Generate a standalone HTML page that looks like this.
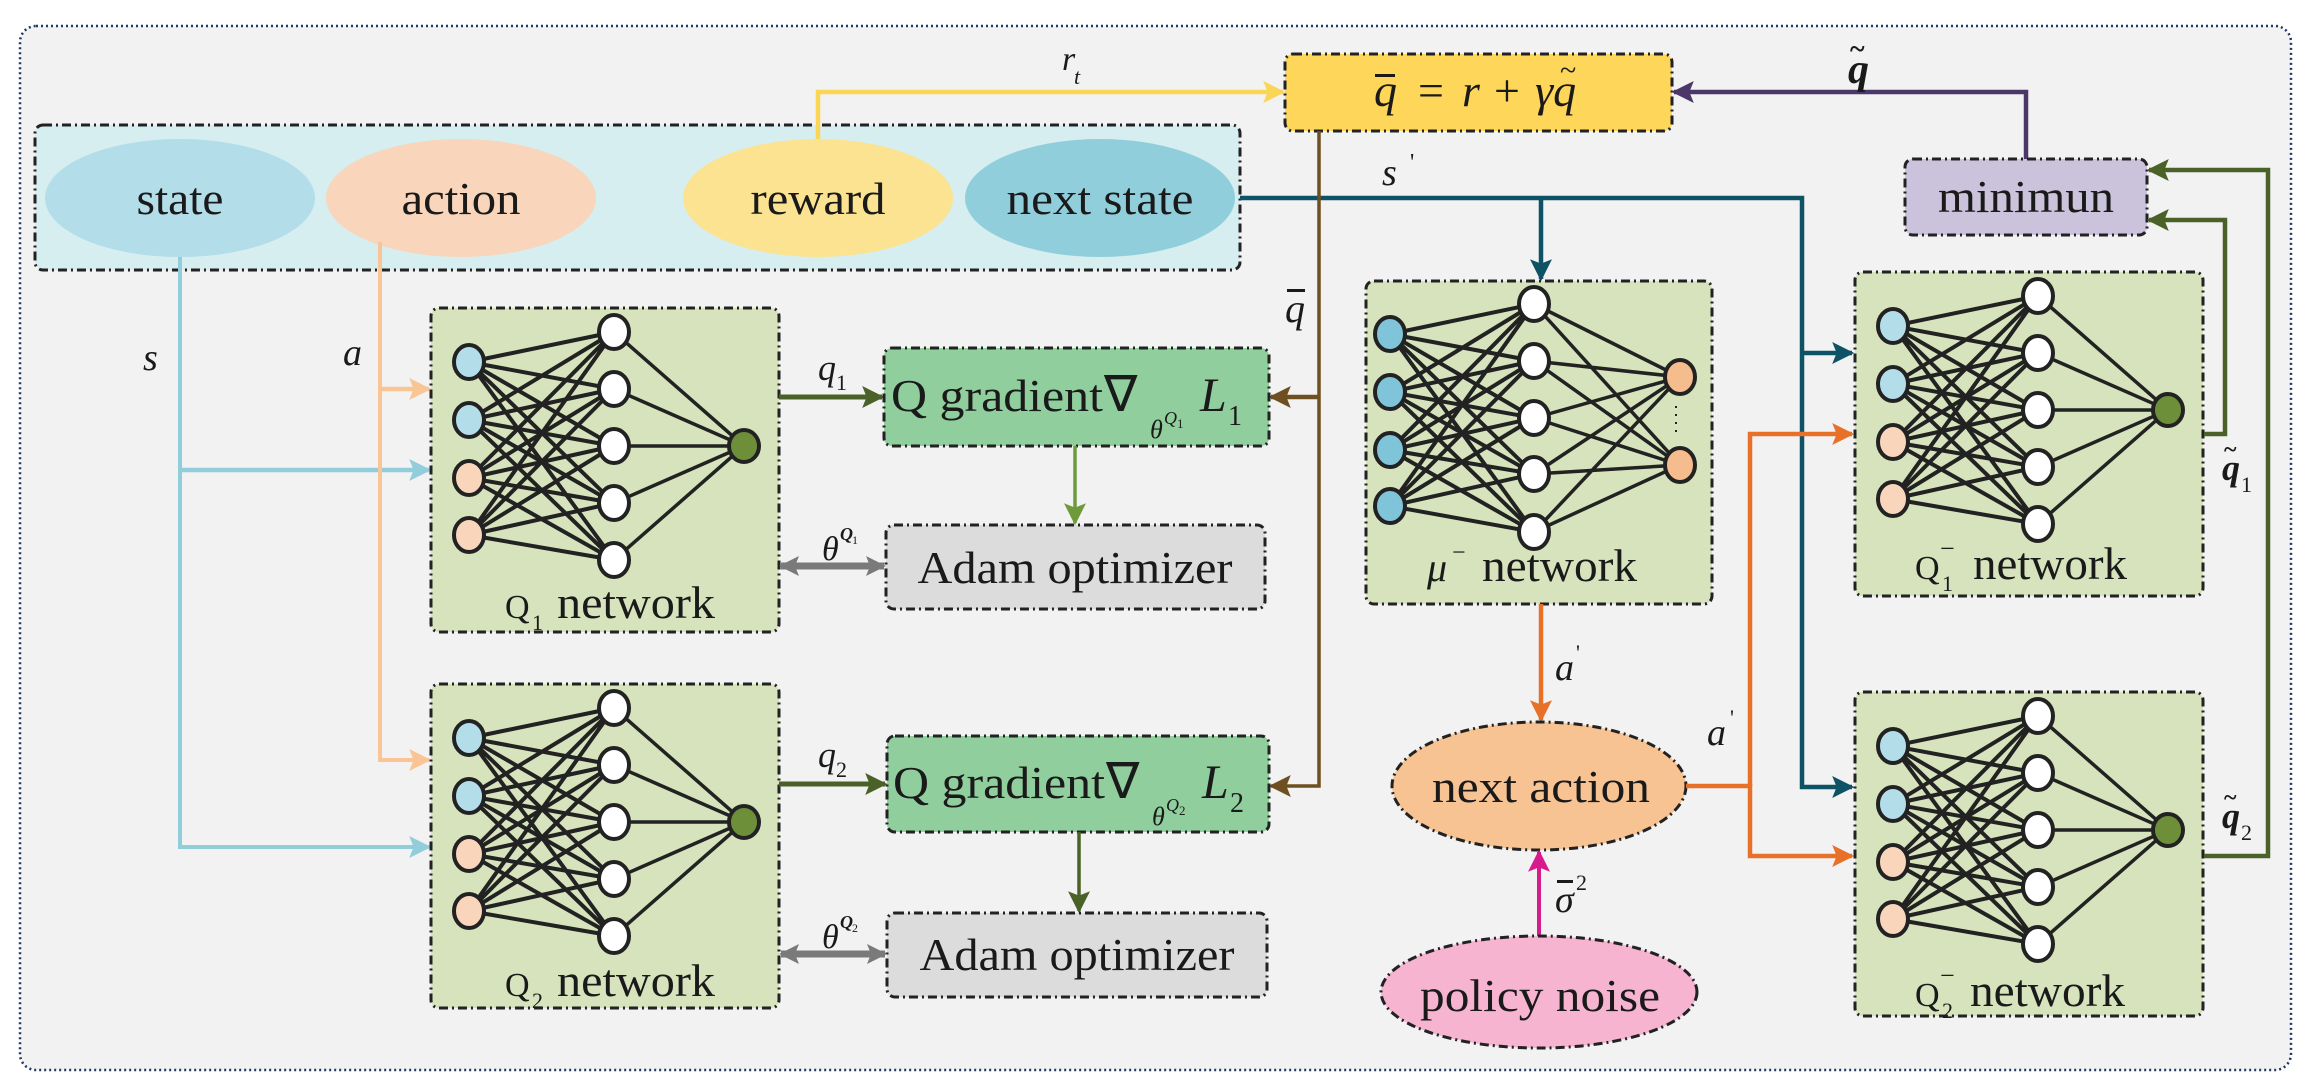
<!DOCTYPE html>
<html><head><meta charset="utf-8"><style>
html,body{margin:0;padding:0;background:#fff}
svg{display:block}
text{font-family:"Liberation Serif",serif;fill:#1a1a1a}
.it{font-style:italic}
</style></head><body>
<svg width="2314" height="1092" viewBox="0 0 2314 1092" xmlns="http://www.w3.org/2000/svg">
<defs>
<marker id="my" viewBox="0 0 10 10" refX="9" refY="5" markerWidth="22" markerHeight="24" markerUnits="userSpaceOnUse" orient="auto-start-reverse"><path d="M0,0L10,5L0,10L2,5z" fill="#fbd555"/></marker>
<marker id="mp" viewBox="0 0 10 10" refX="9" refY="5" markerWidth="22" markerHeight="24" markerUnits="userSpaceOnUse" orient="auto-start-reverse"><path d="M0,0L10,5L0,10L2,5z" fill="#4b3768"/></marker>
<marker id="mt" viewBox="0 0 10 10" refX="9" refY="5" markerWidth="22" markerHeight="24" markerUnits="userSpaceOnUse" orient="auto-start-reverse"><path d="M0,0L10,5L0,10L2,5z" fill="#0e5266"/></marker>
<marker id="mb" viewBox="0 0 10 10" refX="9" refY="5" markerWidth="22" markerHeight="24" markerUnits="userSpaceOnUse" orient="auto-start-reverse"><path d="M0,0L10,5L0,10L2,5z" fill="#6e5020"/></marker>
<marker id="mg" viewBox="0 0 10 10" refX="9" refY="5" markerWidth="22" markerHeight="24" markerUnits="userSpaceOnUse" orient="auto-start-reverse"><path d="M0,0L10,5L0,10L2,5z" fill="#4a6128"/></marker>
<marker id="ml" viewBox="0 0 10 10" refX="9" refY="5" markerWidth="22" markerHeight="24" markerUnits="userSpaceOnUse" orient="auto-start-reverse"><path d="M0,0L10,5L0,10L2,5z" fill="#6e9a3a"/></marker>
<marker id="mgr" viewBox="0 0 10 10" refX="9" refY="5" markerWidth="20" markerHeight="26" markerUnits="userSpaceOnUse" orient="auto-start-reverse"><path d="M0,0L10,5L0,10L2,5z" fill="#7a7a7a"/></marker>
<marker id="msb" viewBox="0 0 10 10" refX="9" refY="5" markerWidth="22" markerHeight="24" markerUnits="userSpaceOnUse" orient="auto-start-reverse"><path d="M0,0L10,5L0,10L2,5z" fill="#92cddc"/></marker>
<marker id="mpe" viewBox="0 0 10 10" refX="9" refY="5" markerWidth="22" markerHeight="24" markerUnits="userSpaceOnUse" orient="auto-start-reverse"><path d="M0,0L10,5L0,10L2,5z" fill="#f9c595"/></marker>
<marker id="mo" viewBox="0 0 10 10" refX="9" refY="5" markerWidth="22" markerHeight="24" markerUnits="userSpaceOnUse" orient="auto-start-reverse"><path d="M0,0L10,5L0,10L2,5z" fill="#e8712a"/></marker>
<marker id="mm" viewBox="0 0 10 10" refX="9" refY="5" markerWidth="22" markerHeight="24" markerUnits="userSpaceOnUse" orient="auto-start-reverse"><path d="M0,0L10,5L0,10L2,5z" fill="#d81b8c"/></marker>
<g id="qnet">
<rect x="0" y="0" width="348" height="324" rx="8" fill="#d6e3bc" stroke="#222" stroke-width="3" stroke-dasharray="9 4 2 4"/>
<path d="M38 54L183 24M38 54L183 81M38 54L183 138M38 54L183 195M38 54L183 252M38 112L183 24M38 112L183 81M38 112L183 138M38 112L183 195M38 112L183 252M38 170L183 24M38 170L183 81M38 170L183 138M38 170L183 195M38 170L183 252M38 227L183 24M38 227L183 81M38 227L183 138M38 227L183 195M38 227L183 252" stroke="#222" stroke-width="4" fill="none"/>
<path d="M183 24L313 138M183 81L313 138M183 138L313 138M183 195L313 138M183 252L313 138" stroke="#222" stroke-width="3.5" fill="none"/>
<g stroke="#222" stroke-width="4">
<ellipse cx="38" cy="54" rx="15" ry="17" fill="#b3dde9"/><ellipse cx="38" cy="112" rx="15" ry="17" fill="#b3dde9"/>
<ellipse cx="38" cy="170" rx="15" ry="17" fill="#f8d5bb"/><ellipse cx="38" cy="227" rx="15" ry="17" fill="#f8d5bb"/>
<ellipse cx="183" cy="24" rx="15" ry="17" fill="#fff"/><ellipse cx="183" cy="81" rx="15" ry="17" fill="#fff"/><ellipse cx="183" cy="138" rx="15" ry="17" fill="#fff"/><ellipse cx="183" cy="195" rx="15" ry="17" fill="#fff"/><ellipse cx="183" cy="252" rx="15" ry="17" fill="#fff"/>
<ellipse cx="313" cy="138" rx="15" ry="16" fill="#6e8f3a"/>
</g>
</g>
</defs>

<rect x="20" y="26" width="2271" height="1044" rx="16" fill="#f2f2f2" stroke="#1f3864" stroke-width="2.5" stroke-dasharray="2 3"/>

<rect x="35" y="125" width="1205" height="145" rx="8" fill="#d6eef0" stroke="#222" stroke-width="3" stroke-dasharray="9 4 2 4"/>
<ellipse cx="180" cy="198" rx="135" ry="59" fill="#b3dde9"/>
<ellipse cx="461" cy="198" rx="135" ry="59" fill="#f8d5bb"/>
<ellipse cx="818" cy="198" rx="135" ry="59" fill="#fbe391"/>
<ellipse cx="1100" cy="198" rx="135" ry="59" fill="#91cedc"/>
<text x="180" y="214" font-size="46" text-anchor="middle" textLength="87" lengthAdjust="spacingAndGlyphs">state</text>
<text x="461" y="214" font-size="46" text-anchor="middle" textLength="119" lengthAdjust="spacingAndGlyphs">action</text>
<text x="818" y="214" font-size="46" text-anchor="middle" textLength="135" lengthAdjust="spacingAndGlyphs">reward</text>
<text x="1100" y="214" font-size="46" text-anchor="middle" textLength="187" lengthAdjust="spacingAndGlyphs">next state</text>

<path d="M818 139V92H1283" stroke="#fbd555" stroke-width="4.5" fill="none" marker-end="url(#my)"/>
<text x="1062" y="70" font-size="34" class="it">r</text><text x="1074" y="84" font-size="22" class="it">t</text>

<rect x="1285" y="54" width="387" height="77" rx="8" fill="#fed65a" stroke="#222" stroke-width="3" stroke-dasharray="9 4 2 4"/>
<text x="1374" y="106" font-size="46" class="it">q</text>
<rect x="1375" y="74" width="20" height="3" fill="#1a1a1a"/>
<text x="1418" y="106" font-size="46">=</text>
<text x="1462" y="106" font-size="46" class="it">r</text>
<text x="1494" y="106" font-size="46">+</text>
<text x="1535" y="106" font-size="46" class="it">γq</text>
<text x="1560" y="80" font-size="30">~</text>

<path d="M2026 159V92H1674" stroke="#4b3768" stroke-width="4.5" fill="none" marker-end="url(#mp)"/>
<text x="1848" y="83" font-size="42" class="it" font-weight="bold">q</text><text x="1850" y="58" font-size="28" font-weight="bold">~</text>

<rect x="1905" y="159" width="242" height="76" rx="8" fill="#cbc3dc" stroke="#222" stroke-width="3" stroke-dasharray="9 4 2 4"/>
<text x="2026" y="212" font-size="46" text-anchor="middle" textLength="176" lengthAdjust="spacingAndGlyphs">minimun</text>

<path d="M1240 198H1802V787H1852" stroke="#0e5266" stroke-width="4.5" fill="none" marker-end="url(#mt)"/>
<path d="M1541 198V279" stroke="#0e5266" stroke-width="4.5" fill="none" marker-end="url(#mt)"/>
<path d="M1802 353H1852" stroke="#0e5266" stroke-width="4.5" fill="none" marker-end="url(#mt)"/>
<text x="1382" y="185" font-size="38" class="it">s</text><text x="1410" y="170" font-size="24">'</text>

<path d="M1319 131V786H1271" stroke="#6e5020" stroke-width="3.5" fill="none" marker-end="url(#mb)"/>
<path d="M1319 397H1271" stroke="#6e5020" stroke-width="4.5" fill="none" marker-end="url(#mb)"/>
<text x="1285" y="322" font-size="40" class="it">q</text><rect x="1287" y="289" width="18" height="3" fill="#1a1a1a"/>

<path d="M180 257V847H429" stroke="#92cddc" stroke-width="4" fill="none" marker-end="url(#msb)"/>
<path d="M180 470H429" stroke="#92cddc" stroke-width="4.5" fill="none" marker-end="url(#msb)"/>
<text x="143" y="370" font-size="38" class="it">s</text>
<path d="M380 242V760H429" stroke="#f9c595" stroke-width="4" fill="none" marker-end="url(#mpe)"/>
<path d="M380 389H429" stroke="#f9c595" stroke-width="4.5" fill="none" marker-end="url(#mpe)"/>
<text x="343" y="365" font-size="38" class="it">a</text>

<use href="#qnet" x="431" y="308"/>
<use href="#qnet" x="431" y="684"/>
<use href="#qnet" x="1855" y="272"/>
<use href="#qnet" x="1855" y="692"/>

<text x="505" y="618" font-size="34">Q</text><text x="532" y="630" font-size="22">1</text>
<text x="557" y="618" font-size="46" textLength="158" lengthAdjust="spacingAndGlyphs">network</text>
<text x="505" y="996" font-size="34">Q</text><text x="532" y="1008" font-size="22">2</text>
<text x="557" y="996" font-size="46" textLength="158" lengthAdjust="spacingAndGlyphs">network</text>
<text x="1915" y="579" font-size="34">Q</text><text x="1942" y="591" font-size="22">1</text><text x="1940" y="557" font-size="26">−</text>
<text x="1973" y="579" font-size="46" textLength="154" lengthAdjust="spacingAndGlyphs">network</text>
<text x="1915" y="1006" font-size="34">Q</text><text x="1942" y="1018" font-size="22">2</text><text x="1940" y="984" font-size="26">−</text>
<text x="1970" y="1006" font-size="46" textLength="155" lengthAdjust="spacingAndGlyphs">network</text>

<path d="M779 397H882" stroke="#4a6128" stroke-width="5" fill="none" marker-end="url(#mg)"/>
<text x="818" y="380" font-size="36" class="it">q</text><text x="836" y="390" font-size="22">1</text>
<rect x="884" y="348" width="385" height="98" rx="8" fill="#90cf9d" stroke="#222" stroke-width="3" stroke-dasharray="9 4 2 4"/>
<text x="891" y="411" font-size="46" textLength="212" lengthAdjust="spacingAndGlyphs">Q gradient</text>
<text x="1104" y="411" font-size="50">∇</text>
<text x="1150" y="438" font-size="26" class="it">θ</text><text x="1164" y="424" font-size="18" class="it">Q</text><text x="1177" y="428" font-size="13">1</text>
<text x="1200" y="411" font-size="48" class="it">L</text><text x="1228" y="425" font-size="28">1</text>

<path d="M779 784H885" stroke="#4a6128" stroke-width="5" fill="none" marker-end="url(#mg)"/>
<text x="818" y="767" font-size="36" class="it">q</text><text x="836" y="777" font-size="22">2</text>
<rect x="887" y="736" width="382" height="96" rx="8" fill="#90cf9d" stroke="#222" stroke-width="3" stroke-dasharray="9 4 2 4"/>
<text x="893" y="798" font-size="46" textLength="212" lengthAdjust="spacingAndGlyphs">Q gradient</text>
<text x="1106" y="798" font-size="50">∇</text>
<text x="1152" y="825" font-size="26" class="it">θ</text><text x="1166" y="811" font-size="18" class="it">Q</text><text x="1179" y="815" font-size="13">2</text>
<text x="1202" y="798" font-size="48" class="it">L</text><text x="1230" y="812" font-size="28">2</text>

<path d="M1075 446V523" stroke="#6e9a3a" stroke-width="3.5" fill="none" marker-end="url(#ml)"/>
<path d="M1079 832V911" stroke="#4a6128" stroke-width="3.5" fill="none" marker-end="url(#mg)"/>

<rect x="886" y="525" width="379" height="84" rx="8" fill="#dcdcdc" stroke="#222" stroke-width="3" stroke-dasharray="9 4 2 4"/>
<text x="1075" y="583" font-size="46" text-anchor="middle" textLength="315" lengthAdjust="spacingAndGlyphs">Adam optimizer</text>
<rect x="887" y="913" width="380" height="84" rx="8" fill="#dcdcdc" stroke="#222" stroke-width="3" stroke-dasharray="9 4 2 4"/>
<text x="1077" y="970" font-size="46" text-anchor="middle" textLength="315" lengthAdjust="spacingAndGlyphs">Adam optimizer</text>

<path d="M781 566H884" stroke="#7a7a7a" stroke-width="7" fill="none" marker-start="url(#mgr)" marker-end="url(#mgr)"/>
<text x="822" y="560" font-size="34" class="it">θ</text><text x="840" y="540" font-size="18" class="it" font-weight="bold">Q</text><text x="852" y="544" font-size="12">1</text>
<path d="M781 954H885" stroke="#7a7a7a" stroke-width="7" fill="none" marker-start="url(#mgr)" marker-end="url(#mgr)"/>
<text x="822" y="948" font-size="34" class="it">θ</text><text x="840" y="928" font-size="18" class="it" font-weight="bold">Q</text><text x="852" y="932" font-size="12">2</text>

<g transform="translate(1366,281)">
<rect x="0" y="0" width="346" height="323" rx="8" fill="#d6e3bc" stroke="#222" stroke-width="3" stroke-dasharray="9 4 2 4"/>
<path d="M24 53L168 23M24 53L168 80M24 53L168 137M24 53L168 193M24 53L168 251M24 111L168 23M24 111L168 80M24 111L168 137M24 111L168 193M24 111L168 251M24 169L168 23M24 169L168 80M24 169L168 137M24 169L168 193M24 169L168 251M24 225L168 23M24 225L168 80M24 225L168 137M24 225L168 193M24 225L168 251" stroke="#222" stroke-width="4" fill="none"/>
<path d="M168 23L314 96M168 80L314 96M168 137L314 96M168 193L314 96M168 251L314 96M168 23L314 184M168 80L314 184M168 137L314 184M168 193L314 184M168 251L314 184" stroke="#222" stroke-width="3.5" fill="none"/>
<g stroke="#222" stroke-width="4">
<ellipse cx="24" cy="53" rx="15" ry="17" fill="#7fc4d8"/><ellipse cx="24" cy="111" rx="15" ry="17" fill="#7fc4d8"/><ellipse cx="24" cy="169" rx="15" ry="17" fill="#7fc4d8"/><ellipse cx="24" cy="225" rx="15" ry="17" fill="#7fc4d8"/>
<ellipse cx="168" cy="23" rx="15" ry="17" fill="#fff"/><ellipse cx="168" cy="80" rx="15" ry="17" fill="#fff"/><ellipse cx="168" cy="137" rx="15" ry="17" fill="#fff"/><ellipse cx="168" cy="193" rx="15" ry="17" fill="#fff"/><ellipse cx="168" cy="251" rx="15" ry="17" fill="#fff"/>
<ellipse cx="314" cy="96" rx="15" ry="17" fill="#f5bd8d"/><ellipse cx="314" cy="184" rx="15" ry="17" fill="#f5bd8d"/>
</g>
<path d="M310 125V155" stroke="#222" stroke-width="2" stroke-dasharray="2 6"/>
</g>
<text x="1427" y="581" font-size="40" class="it">μ</text><text x="1452" y="560" font-size="24">−</text>
<text x="1482" y="581" font-size="46" textLength="155" lengthAdjust="spacingAndGlyphs">network</text>

<path d="M1541 604V720" stroke="#e8712a" stroke-width="4.5" fill="none" marker-end="url(#mo)"/>
<text x="1555" y="680" font-size="38" class="it">a</text><text x="1576" y="660" font-size="22">'</text>
<ellipse cx="1539" cy="786" rx="147" ry="64" fill="#f7c393" stroke="#222" stroke-width="3" stroke-dasharray="9 4 2 4"/>
<text x="1541" y="802" font-size="46" text-anchor="middle" textLength="218" lengthAdjust="spacingAndGlyphs">next action</text>
<path d="M1686 786H1750V856H1852" stroke="#e8712a" stroke-width="4.5" fill="none" marker-end="url(#mo)"/>
<path d="M1750 786V434H1852" stroke="#e8712a" stroke-width="4.5" fill="none" marker-end="url(#mo)"/>
<text x="1707" y="745" font-size="38" class="it">a</text><text x="1730" y="725" font-size="22">'</text>

<path d="M1539 936V852" stroke="#d81b8c" stroke-width="4" fill="none" marker-end="url(#mm)"/>
<text x="1555" y="912" font-size="38" class="it">σ</text><rect x="1557" y="880" width="16" height="3" fill="#1a1a1a"/><text x="1576" y="890" font-size="22">2</text>
<ellipse cx="1539" cy="992" rx="158" ry="56" fill="#f6b4d0" stroke="#222" stroke-width="3" stroke-dasharray="9 4 2 4"/>
<text x="1540" y="1011" font-size="46" text-anchor="middle" textLength="240" lengthAdjust="spacingAndGlyphs">policy noise</text>

<path d="M2204 434H2225V220H2149" stroke="#4a6128" stroke-width="4.5" fill="none" marker-end="url(#mg)"/>
<path d="M2204 856H2268V170H2149" stroke="#4a6128" stroke-width="4.5" fill="none" marker-end="url(#mg)"/>
<text x="2222" y="480" font-size="36" class="it" font-weight="bold">q</text><text x="2224" y="457" font-size="24" font-weight="bold">~</text><text x="2241" y="492" font-size="22">1</text>
<text x="2222" y="828" font-size="36" class="it" font-weight="bold">q</text><text x="2224" y="805" font-size="24" font-weight="bold">~</text><text x="2241" y="840" font-size="22">2</text>
</svg>
</body></html>
